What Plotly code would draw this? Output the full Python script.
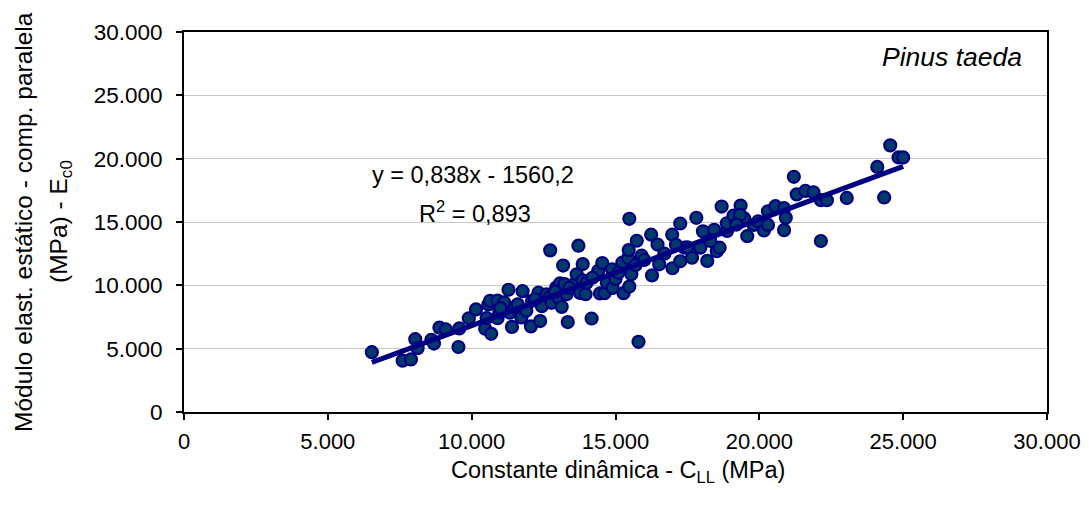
import plotly.graph_objects as go

# Data (MPa)
c_ll = [6530, 7600, 7890, 8040, 8120, 8600, 8690, 8880, 9100, 9540, 9570, 9900, 10150,
        10470, 10680, 10520, 10580, 10640, 10900, 10900, 10960, 11130, 11280, 11330, 11400,
        11500, 11770, 11730, 11900, 12060, 12100, 12380, 12320, 12440, 12600, 12700, 12730,
        12780, 12940, 13020, 13070, 13130, 13180, 13230, 13300, 13340, 13540, 13650, 13710,
        13770, 13860, 13860, 13960, 14170, 14400, 14460, 14540, 14620, 14700, 14880, 14900,
        15240, 15280, 15480, 15550, 15440, 15460, 15480, 15740, 15800, 15910, 16240, 16270,
        16460, 16520, 16980, 16970, 17250, 17250, 17400, 17660, 17810, 17950, 18040, 18190,
        18430, 18520, 18620, 18690, 18880, 18870, 19100, 19350, 19470, 19330, 19580, 19800,
        19960, 20160, 20300, 20300, 20560, 20860, 20920, 20860, 21200, 21300, 21600, 21880,
        22140, 22350, 22140, 23040, 24100, 24340, 24550, 24840, 25000,
        11000, 11600, 12200, 12900, 13400, 14000, 14200, 15000, 15100, 15700, 16000, 16700,
        17100, 17500, 18300, 19200]
e_c0 = [4720, 4050, 4150, 5750, 5040, 5700, 5400, 6660, 6520, 5130, 6600, 7400, 8100,
        6580, 6170, 7420, 8490, 8780, 8800, 7400, 7860, 8650, 9650, 7840, 6720,
        8250, 9540, 7470, 8000, 6760, 8780, 7180, 9420, 8360, 9280, 9040, 12760,
        8620, 9830, 9000, 10150, 8300, 11560, 10100, 9300, 7100, 10060, 10870, 13130,
        9400, 11680, 10400, 9300, 7380, 11150, 9360, 11760, 9380, 10200, 11270, 9800,
        11800, 9380, 9900, 10870, 12150, 12780, 15250, 13520, 5540, 12340, 14000, 10780,
        13220, 11660, 11350, 14000, 14880, 11900, 12970, 12180, 15330, 12970, 14260, 11930,
        14390, 12690, 12970, 16220, 14300, 14900, 15500, 16300, 15300, 15560, 13880, 14770,
        15060, 14330, 15850, 14770, 16250, 16090, 15330, 14360, 18570, 17180, 17450, 17350,
        16720, 16720, 13500, 16900, 19350, 16940, 21050, 20100, 20100,
        8200, 8500, 8900, 9500, 9800, 10200, 10600, 10500, 11000, 11600, 12000, 12500,
        13200, 13000, 13500, 14800]

# Trendline (equation shown on the chart)
slope = 0.838
intercept = -1560.2
trend_x = [min(c_ll), max(c_ll)]
trend_y = [slope * v + intercept for v in trend_x]

tick_vals = [0, 5000, 10000, 15000, 20000, 25000, 30000]
tick_text = ["0", "5.000", "10.000", "15.000", "20.000", "25.000", "30.000"]

FONT = "Liberation Sans, Arial, Helvetica, sans-serif"

fig = go.Figure()
fig.add_trace(go.Scatter(
    x=c_ll, y=e_c0, mode="markers",
    marker=dict(size=12, color="#003a6b", line=dict(color="#000080", width=2.2)),
    showlegend=False, hoverinfo="skip"))
fig.add_trace(go.Scatter(
    x=trend_x, y=trend_y, mode="lines",
    line=dict(color="#000080", width=5),
    showlegend=False, hoverinfo="skip"))

# page body adds an 8px offset; margins compensate
fig.update_layout(
    width=1089, height=505,
    margin=dict(l=176, r=50, t=21, b=101),
    paper_bgcolor="white", plot_bgcolor="white",
    font=dict(family=FONT, size=22, color="black"),
    xaxis=dict(
        range=[0, 30000], tickvals=tick_vals, ticktext=tick_text,
        showgrid=False, zeroline=False,
        showline=True, linecolor="black", linewidth=2, mirror=True,
        ticks="outside", ticklen=6, tickwidth=2, tickcolor="black",
        tickfont=dict(size=22), ticklabelstandoff=3,
    ),
    yaxis=dict(
        range=[0, 30000], tickvals=tick_vals, ticktext=tick_text,
        showgrid=True, gridcolor="#c8c8c8", gridwidth=1, zeroline=False,
        showline=True, linecolor="black", linewidth=2, mirror=True,
        ticks="outside", ticklen=6, tickwidth=2, tickcolor="black",
        tickfont=dict(size=22.5), ticklabelstandoff=9,
    ),
)

# X-axis title
fig.add_annotation(text="Constante dinâmica - C<sub>LL</sub> (MPa)",
                   xref="paper", yref="paper", x=0.503, y=0, yshift=-59,
                   showarrow=False, font=dict(size=23.5),
                   xanchor="center", yanchor="middle")

# Y-axis title as two rotated lines
fig.add_annotation(text="Módulo elast. estático - comp. paralela",
                   xref="paper", yref="paper", x=0, y=0.5, xshift=-161,
                   textangle=-90, showarrow=False, font=dict(size=24.5),
                   xanchor="center", yanchor="middle")
fig.add_annotation(text="(MPa) - E<sub>c0</sub>",
                   xref="paper", yref="paper", x=0, y=0.5, xshift=-124,
                   textangle=-90, showarrow=False, font=dict(size=24.5),
                   xanchor="center", yanchor="middle")

# Regression equation
fig.add_annotation(text="y = 0,838x - 1560,2", x=10050, y=18750,
                   showarrow=False, font=dict(size=23.5), xanchor="center", yanchor="middle")
fig.add_annotation(text="R<sup>2</sup> = 0,893", x=10100, y=15800,
                   showarrow=False, font=dict(size=23.5), xanchor="center", yanchor="middle")

# Species label
fig.add_annotation(text="<i>Pinus taeda</i>", xref="paper", yref="paper",
                   x=0.973, y=0.935, showarrow=False, font=dict(size=26.5),
                   xanchor="right", yanchor="middle")

fig.write_html("out.html")
